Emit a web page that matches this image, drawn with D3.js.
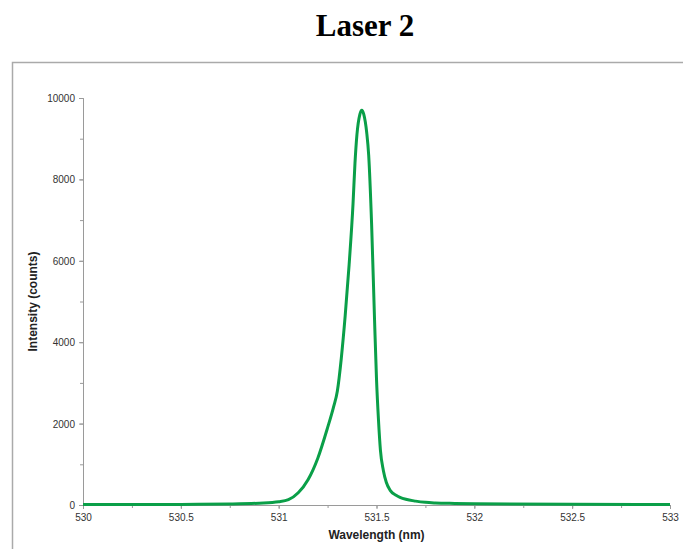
<!DOCTYPE html>
<html>
<head>
<meta charset="utf-8">
<script src="https://cdnjs.cloudflare.com/ajax/libs/d3/7.8.5/d3.min.js"></script>
<style>
  body { margin: 0; background: #fff; }
  svg { display: block; }
</style>
</head>
<body>
<div id="chart"></div>
<script>
// spectrum
var wavelengths = [530.0, 530.25, 530.5, 530.75, 530.9, 531.0, 531.05, 531.1, 531.15, 531.2,
  531.25, 531.28, 531.3, 531.32, 531.34, 531.36, 531.38, 531.39, 531.4, 531.415,
  531.425, 531.435, 531.45, 531.46, 531.475, 531.49, 531.5, 531.51, 531.52, 531.535,
  531.55, 531.57, 531.6, 531.62, 531.65, 531.7, 531.75, 531.8, 531.9, 532.0,
  532.5, 533.0];
var counts = [10, 12, 15, 25, 45, 80, 130, 300, 620, 1150,
  1900, 2400, 2800, 3600, 4650, 5900, 7400, 8400, 9100, 9600,
  9700, 9600, 9150, 8600, 6900, 4550, 3100, 2100, 1350, 850,
  560, 360, 240, 190, 140, 95, 65, 50, 38, 30,
  20, 12];
var xTicks = [530, 530.5, 531, 531.5, 532, 532.5, 533];
var yTicks = [0, 2000, 4000, 6000, 8000, 10000];

var width = 683, height = 549;
var margin = {left: 83, right: 13, top: 98, bottom: 44};

var svg = d3.select("#chart").append("svg")
    .attr("width", width)
    .attr("height", height);

// frame
svg.append("path")
    .attr("d", "M12.5," + height + "V62.5H" + width)
    .attr("fill", "none")
    .attr("stroke", "#aaa")
    .attr("stroke-width", 1.5);

svg.append("text")
    .attr("x", 365)
    .attr("y", 36)
    .attr("text-anchor", "middle")
    .style("font-family", "'Liberation Serif', 'Times New Roman', serif")
    .style("font-weight", "bold")
    .style("font-size", "31px")
    .text("Laser 2");

var x = d3.scaleLinear()
    .domain([530, 533])
    .range([margin.left, width - margin.right]);

var y = d3.scaleLinear()
    .domain([0, 10000])
    .range([height - margin.bottom, margin.top]);

// minor ticks
var xAxisMinor = svg.append("g")
    .attr("transform", "translate(0," + y(0) + ")")
    .call(d3.axisBottom(x).tickValues(d3.range(530, 533.01, 0.25)).tickSize(3).tickFormat(""));
var yAxisMinor = svg.append("g")
    .attr("transform", "translate(" + x(530) + ",0)")
    .call(d3.axisLeft(y).tickValues(d3.range(0, 10001, 1000)).tickSize(3).tickFormat(""));

var xAxis = svg.append("g")
    .attr("transform", "translate(0," + y(0) + ")")
    .call(d3.axisBottom(x).tickValues(xTicks).tickSize(4).tickPadding(5).tickFormat(d3.format("")));
var yAxis = svg.append("g")
    .attr("transform", "translate(" + x(530) + ",0)")
    .call(d3.axisLeft(y).tickValues(yTicks).tickSize(4).tickPadding(4).tickFormat(d3.format("")));

[xAxisMinor, yAxisMinor, xAxis, yAxis].forEach(function(g) {
  g.selectAll("path, line").attr("stroke", "#9a9a9a").attr("stroke-width", 1);
  g.selectAll("text")
    .style("font-family", "'Liberation Sans', Arial, sans-serif")
    .style("font-size", "10px")
    .attr("fill", "#333");
});
yAxis.selectAll("text").attr("dy", "0.35em");

svg.append("path")
    .datum(d3.zip(wavelengths, counts))
    .attr("fill", "none")
    .attr("stroke", "#0a9f48")
    .attr("stroke-width", 3)
    .attr("stroke-linejoin", "round")
    .attr("d", d3.line()
      .x(function(d) { return x(d[0]); })
      .y(function(d) { return y(d[1]); })
      .curve(d3.curveMonotoneX));

svg.append("text")
    .attr("x", x(531.5))
    .attr("y", 539)
    .attr("text-anchor", "middle")
    .style("font-family", "'Liberation Sans', Arial, sans-serif")
    .style("font-weight", "bold")
    .style("font-size", "12px")
    .attr("fill", "#222")
    .text("Wavelength (nm)");

svg.append("text")
    .attr("transform", "translate(37," + y(5000) + ") rotate(-90)")
    .attr("text-anchor", "middle")
    .style("font-family", "'Liberation Sans', Arial, sans-serif")
    .style("font-weight", "bold")
    .style("font-size", "12px")
    .attr("fill", "#222")
    .text("Intensity (counts)");
</script>
</body>
</html>
